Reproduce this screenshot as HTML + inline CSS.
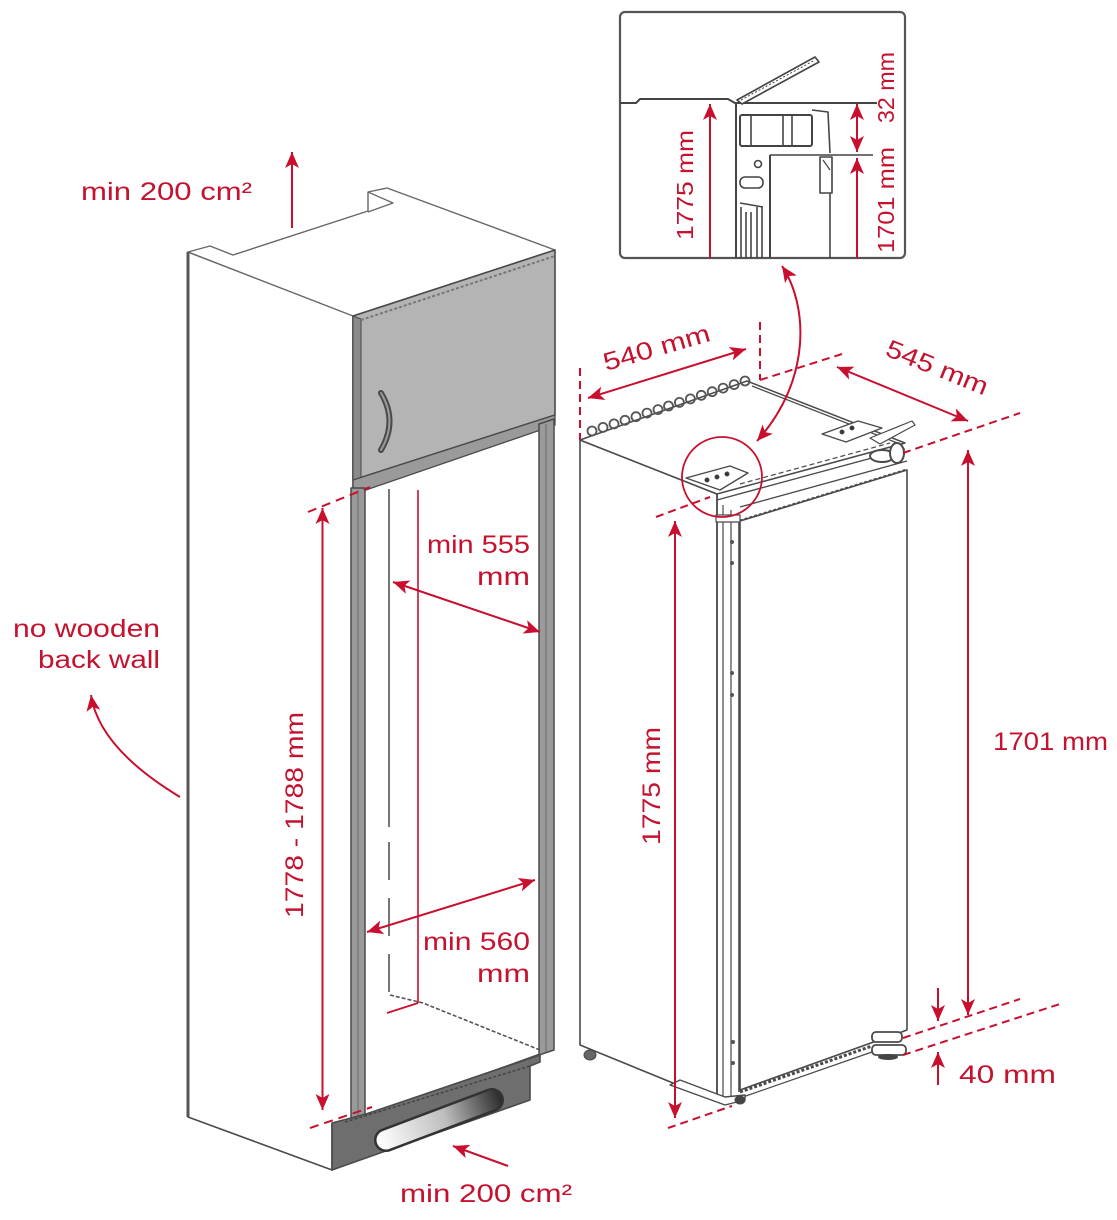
<!DOCTYPE html>
<html>
<head>
<meta charset="utf-8">
<style>
html,body{margin:0;padding:0;background:#fff;}
svg{display:block;}
text{font-family:"Liberation Sans",sans-serif;fill:#c4122f;}
</style>
</head>
<body>
<svg width="1117" height="1220" viewBox="0 0 1117 1220" xmlns="http://www.w3.org/2000/svg">
<defs>
<marker id="ar" viewBox="0 0 16 14" refX="16" refY="7" markerWidth="16" markerHeight="14" markerUnits="userSpaceOnUse" orient="auto-start-reverse">
<path d="M0,0 L16,7 L0,14 L4,7 z" fill="#c8102e"/>
</marker>
<linearGradient id="slot" gradientUnits="userSpaceOnUse" x1="378" y1="1140" x2="500" y2="1098">
<stop offset="0" stop-color="#ffffff"/>
<stop offset="0.55" stop-color="#bdbdbd"/>
<stop offset="1" stop-color="#2e2e2e"/>
</linearGradient>
</defs>

<!-- ================= CABINET ================= -->
<g stroke="#4a4a4a" stroke-linejoin="round">
<polygon points="188,252 353,315 353,1122 332,1124 332,1170 188,1117" fill="#fff" stroke-width="1.6"/>
<line x1="188" y1="252" x2="188" y2="1117" stroke-width="3" stroke="#555"/>
<polygon points="188,252 210,246 233,255 368,211 368,192 387,188 555,250 353,316" fill="#fff" stroke-width="1.4" stroke="#666"/>
<polyline points="368,192 393,203 368,212" fill="none" stroke-width="1.3" stroke="#666"/>
<polygon points="353,316 555,250 555,415 353,480" fill="#b4b4b4" stroke-width="1.6"/>
<polygon points="353,316 361,319 361,480 353,480" fill="#8a8a8a" stroke-width="1"/>
<line x1="361" y1="320" x2="555" y2="256" stroke="#777" stroke-width="2" stroke-dasharray="3 2"/>
<path d="M381,393 Q398,421 381,450" fill="none" stroke="#4a4a4a" stroke-width="6" stroke-linecap="round"/>
<path d="M381,393 Q398,421 381,450" fill="none" stroke="#9a9a9a" stroke-width="2" stroke-linecap="round"/>
<polygon points="353,480 555,415 555,425 366,490 353,490" fill="#9a9a9a" stroke-width="1.3"/>
<polygon points="539,424 554,419 554,1050 539,1055" fill="#9a9a9a" stroke-width="1.5"/>
<line x1="546" y1="424" x2="546" y2="1052" stroke="#6a6a6a" stroke-width="1"/>
<rect x="351" y="488" width="14" height="634" fill="#9a9a9a" stroke-width="1.5"/>
<line x1="358" y1="490" x2="358" y2="1120" stroke="#6a6a6a" stroke-width="1"/>
<line x1="389" y1="489" x2="389" y2="827" stroke="#555" stroke-width="1.6"/>
<line x1="389" y1="842" x2="389" y2="995" stroke="#555" stroke-width="1.6" stroke-dasharray="38 18"/>
<polyline points="390,995 423,1003 540,1050" fill="none" stroke="#555" stroke-width="1.6" stroke-dasharray="4 2"/>
<line x1="365" y1="1117" x2="540" y2="1054" stroke="#555" stroke-width="1.5"/>
<polygon points="332,1123 366,1114 540,1055 540,1062 530,1066 530,1100 332,1170" fill="#6e6e6e" stroke-width="1.6"/>
<line x1="345" y1="1122" x2="530" y2="1066" stroke="#444" stroke-width="1.5" stroke-dasharray="3 2"/>
<line x1="386" y1="1140" x2="492" y2="1100" stroke="#333" stroke-width="24" stroke-linecap="round"/>
<line x1="386" y1="1140" x2="492" y2="1100" stroke="url(#slot)" stroke-width="19" stroke-linecap="round"/>
</g>

<!-- ================= FRIDGE ================= -->
<g stroke="#4a4a4a" stroke-linejoin="round" fill="none">
<polygon points="580,440 717,494 717,1101 580,1045" fill="#fff" stroke-width="1.6"/>
<polygon points="580,440 747,381 905,443 717,494" fill="#fff" stroke-width="1.5"/>
<g stroke="#555" stroke-width="1.8">
<circle cx="592" cy="431" r="4.5"/><circle cx="603" cy="427.4" r="4.5"/><circle cx="614" cy="423.9" r="4.5"/>
<circle cx="625" cy="420.3" r="4.5"/><circle cx="636" cy="416.7" r="4.5"/><circle cx="647" cy="413.1" r="4.5"/>
<circle cx="658" cy="409.6" r="4.5"/><circle cx="668.5" cy="406" r="4.5"/><circle cx="679.4" cy="402.4" r="4.5"/>
<circle cx="690.4" cy="398.9" r="4.5"/><circle cx="701.3" cy="395.3" r="4.5"/><circle cx="712.2" cy="391.7" r="4.5"/>
<circle cx="723.1" cy="388.1" r="4.5"/><circle cx="734.1" cy="384.6" r="4.5"/><circle cx="745" cy="381" r="4.5"/>
</g>
<line x1="752" y1="386" x2="900" y2="444" stroke-width="1.3"/>
<polygon points="686,478 730,466 748,473 720,490" fill="#fff" stroke-width="1.4"/>
<circle cx="707" cy="480" r="2" fill="#333"/><circle cx="717" cy="477" r="2" fill="#333"/><circle cx="727" cy="474" r="2" fill="#333"/>
<line x1="717" y1="500" x2="905" y2="449" stroke-width="1.4"/>
<line x1="740" y1="484" x2="890" y2="443" stroke-width="1.2" stroke-dasharray="5 3"/>
<line x1="740" y1="507" x2="907" y2="461" stroke-width="1.4"/>
<line x1="740" y1="521" x2="907" y2="470" stroke-width="3" stroke-dasharray="3 2"/>
<polygon points="822,434 858,421 882,428 846,442" fill="#fff" stroke-width="1.4"/>
<circle cx="842" cy="432" r="2" fill="#333"/><circle cx="852" cy="428" r="2" fill="#333"/>
<polygon points="870,438 912,421 915,425 880,444" fill="#fff" stroke-width="1.2"/>
<ellipse cx="882" cy="456" rx="12" ry="6" fill="#fff" stroke-width="2"/>
<ellipse cx="897" cy="453" rx="7" ry="10" fill="#fff" stroke-width="2"/>
<polygon points="740,521 907,470 907,1030 740,1090" fill="#fff" stroke-width="1.6"/>
<line x1="717" y1="494" x2="717" y2="1101" stroke-width="1.6"/>
<line x1="723" y1="505" x2="723" y2="1100" stroke-width="1.2"/>
<line x1="731" y1="510" x2="731" y2="1096" stroke-width="1.2"/>
<line x1="739" y1="518" x2="739" y2="1092" stroke-width="1.6"/>
<rect x="716" y="515" width="24" height="7" fill="#fff" stroke-width="1.2"/>
<g fill="#555" stroke="none">
<circle cx="732" cy="542" r="2"/><circle cx="732" cy="563" r="2"/><circle cx="732" cy="673" r="2"/><circle cx="732" cy="695" r="2"/>
<circle cx="733" cy="1042" r="2"/><circle cx="733" cy="1063" r="2"/>
</g>
<line x1="740" y1="1092" x2="872" y2="1046" stroke-width="3" stroke-dasharray="3 2"/>
<line x1="740" y1="1098" x2="872" y2="1052" stroke-width="1.2"/>
<polygon points="670,1085 725,1105 745,1100 745,1095 725,1097 680,1080" fill="#fff" stroke-width="1.4"/>
<ellipse cx="740" cy="1100" rx="5" ry="4" fill="#444"/>
<rect x="872" y="1032" width="30" height="10" rx="4" fill="#fff" stroke-width="1.8"/>
<rect x="872" y="1045" width="34" height="10" rx="4" fill="#fff" stroke-width="1.8"/>
<ellipse cx="888" cy="1057" rx="10" ry="3" fill="#444" stroke="none"/>
<ellipse cx="590" cy="1055" rx="6" ry="5" fill="#666" stroke-width="1"/>
</g>

<!-- ================= INSET ================= -->
<g stroke="#444" fill="none" stroke-linejoin="round">
<rect x="620" y="12" width="285" height="246" rx="5" fill="#fff" stroke-width="2.2" stroke="#555"/>
<path d="M620,103 L636,103 L640,99 L728,99 L735,103 L877,103" stroke-width="2"/>
<polygon points="737,100 815,57 819,62 742,104" fill="#fff" stroke-width="1.6"/>
<line x1="741" y1="100" x2="815" y2="60" stroke-width="1" stroke-dasharray="2 2"/>
<line x1="736" y1="103" x2="736" y2="258" stroke-width="2"/>
<rect x="740" y="115" width="72" height="31" rx="2" stroke-width="2"/>
<line x1="751" y1="115" x2="751" y2="146" stroke-width="1.6"/>
<line x1="783" y1="115" x2="783" y2="146" stroke-width="1.6"/>
<line x1="792" y1="115" x2="792" y2="146" stroke-width="1.6"/>
<path d="M812,110 L828,112 L830,153" stroke-width="1.6"/>
<line x1="770" y1="155" x2="873" y2="155" stroke-width="1.6"/>
<line x1="770" y1="155" x2="770" y2="258" stroke-width="2"/>
<rect x="820" y="157" width="12" height="36" stroke-width="1.6"/>
<line x1="823" y1="160" x2="830" y2="170" stroke-width="1.2"/>
<line x1="830" y1="193" x2="830" y2="258" stroke-width="1.6"/>
<circle cx="758" cy="164" r="3.5" stroke-width="1.6"/>
<rect x="740" y="177" width="23" height="11" rx="5" stroke-width="1.6"/>
<path d="M740,203 L763,207" stroke-width="1.4"/>
<line x1="741" y1="207" x2="741" y2="258" stroke-width="1.6"/>
<line x1="746" y1="212" x2="746" y2="258" stroke-width="1.6"/>
<line x1="751" y1="212" x2="751" y2="258" stroke-width="1.6"/>
<line x1="757" y1="207" x2="757" y2="258" stroke-width="1.6"/>
<line x1="762" y1="207" x2="762" y2="258" stroke-width="1.6"/>
</g>

<!-- ================= RED DIMENSIONS ================= -->
<g stroke="#c8102e" fill="none" stroke-width="2">
<line x1="292" y1="228" x2="292" y2="152" marker-end="url(#ar)"/>
<path d="M180,797 Q99,748 91,695" marker-end="url(#ar)"/>
<line x1="322.5" y1="1110" x2="322.5" y2="508" marker-start="url(#ar)" marker-end="url(#ar)"/>
<line x1="308" y1="512" x2="370" y2="487" stroke-dasharray="9 6"/>
<line x1="310" y1="1128" x2="372" y2="1107" stroke-dasharray="9 6"/>
<line x1="418" y1="490" x2="418" y2="1003" stroke-width="1.6"/>
<line x1="387" y1="1013" x2="418" y2="1003" stroke-width="1.8"/>
<line x1="393" y1="582" x2="540" y2="632" marker-start="url(#ar)" marker-end="url(#ar)"/>
<line x1="367" y1="932" x2="535" y2="880" marker-start="url(#ar)" marker-end="url(#ar)"/>
<line x1="508" y1="1166" x2="453" y2="1146" marker-end="url(#ar)"/>
<line x1="580" y1="368" x2="580" y2="440" stroke-dasharray="8 5"/>
<line x1="760" y1="322" x2="760" y2="380" stroke-dasharray="8 5"/>
<line x1="588" y1="398" x2="746" y2="349" marker-start="url(#ar)" marker-end="url(#ar)"/>
<line x1="760" y1="380" x2="842" y2="354" stroke-dasharray="8 5"/>
<line x1="903" y1="453" x2="1020" y2="413" stroke-dasharray="8 5"/>
<line x1="837" y1="367" x2="968" y2="421" marker-start="url(#ar)" marker-end="url(#ar)"/>
<line x1="968" y1="1015" x2="968" y2="450" marker-start="url(#ar)" marker-end="url(#ar)"/>
<line x1="903" y1="1038" x2="1020" y2="999" stroke-dasharray="8 5"/>
<line x1="903" y1="1055" x2="1063" y2="1003" stroke-dasharray="8 5"/>
<line x1="938" y1="988" x2="938" y2="1021" marker-end="url(#ar)"/>
<line x1="938" y1="1085" x2="938" y2="1052" marker-end="url(#ar)"/>
<line x1="675" y1="1118" x2="675" y2="521" marker-start="url(#ar)" marker-end="url(#ar)"/>
<line x1="656" y1="517" x2="710" y2="497" stroke-dasharray="8 5"/>
<line x1="668" y1="1128" x2="732" y2="1106" stroke-dasharray="8 5"/>
<circle cx="722" cy="477" r="40" stroke-width="1.8"/>
<path d="M782,266 C808,305 812,380 757,441" marker-start="url(#ar)" marker-end="url(#ar)"/>
<line x1="710" y1="258" x2="710" y2="104" marker-end="url(#ar)"/>
<line x1="857" y1="104" x2="857" y2="152" marker-start="url(#ar)" marker-end="url(#ar)"/>
<line x1="857" y1="258" x2="857" y2="158" marker-end="url(#ar)"/>
</g>

<!-- ================= TEXT ================= -->
<g font-size="25">
<text x="81" y="200" textLength="171" lengthAdjust="spacingAndGlyphs">min 200 cm²</text>
<text x="13" y="637" textLength="147" lengthAdjust="spacingAndGlyphs">no wooden</text>
<text x="38" y="668" textLength="122" lengthAdjust="spacingAndGlyphs">back wall</text>
<text x="427" y="553" textLength="103" lengthAdjust="spacingAndGlyphs">min 555</text>
<text x="477" y="585" textLength="53" lengthAdjust="spacingAndGlyphs">mm</text>
<text x="423" y="950" textLength="107" lengthAdjust="spacingAndGlyphs">min 560</text>
<text x="477" y="982" textLength="53" lengthAdjust="spacingAndGlyphs">mm</text>
<text x="400" y="1202" textLength="172" lengthAdjust="spacingAndGlyphs">min 200 cm²</text>
<text x="993" y="750" textLength="115" lengthAdjust="spacingAndGlyphs">1701 mm</text>
<text x="959" y="1083" textLength="97" lengthAdjust="spacingAndGlyphs">40 mm</text>
<text transform="translate(303,918) rotate(-90)" textLength="206" lengthAdjust="spacingAndGlyphs">1778 - 1788 mm</text>
<text transform="translate(660,845) rotate(-90)" textLength="118" lengthAdjust="spacingAndGlyphs">1775 mm</text>
<text transform="translate(606,371) rotate(-16)" textLength="110" lengthAdjust="spacingAndGlyphs">540 mm</text>
<text transform="translate(884,355) rotate(22)" textLength="108" lengthAdjust="spacingAndGlyphs">545 mm</text>
</g>
<g font-size="23">
<text transform="translate(693,240) rotate(-90)" textLength="110" lengthAdjust="spacingAndGlyphs">1775 mm</text>
<text transform="translate(894,123) rotate(-90)" textLength="71" lengthAdjust="spacingAndGlyphs">32 mm</text>
<text transform="translate(894,253) rotate(-90)" textLength="106" lengthAdjust="spacingAndGlyphs">1701 mm</text>
</g>
</svg>
</body>
</html>
